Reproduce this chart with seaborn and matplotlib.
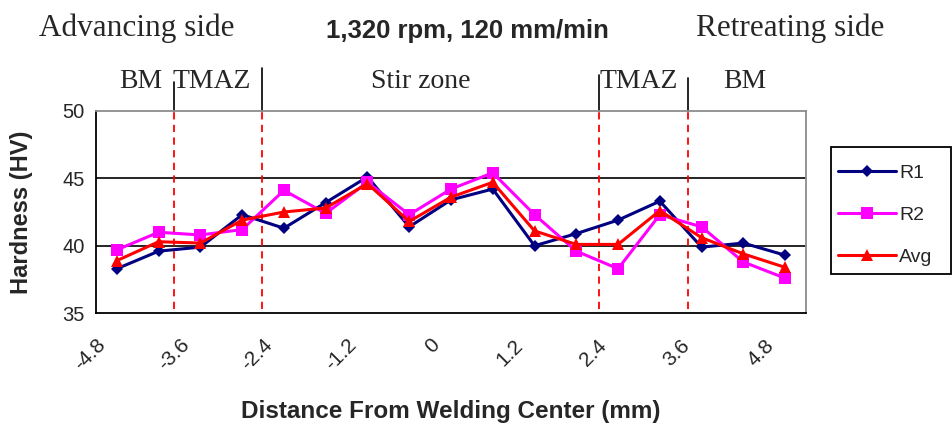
import numpy as np
import pandas as pd
import matplotlib
matplotlib.use("Agg")
import matplotlib.pyplot as plt
import matplotlib.transforms as mtransforms
from matplotlib.patches import Rectangle
import seaborn as sns

# Hardness traverse across the weld (mm from welding center)
distance = [-4.8, -4.2, -3.6, -3.0, -2.4, -1.8, -1.2, -0.6, 0.0,
            0.6, 1.2, 1.8, 2.4, 3.0, 3.6, 4.2, 4.8]
r1 = [38.3, 39.6, 39.9, 42.3, 41.3, 43.2, 45.1, 41.4, 43.4,
      44.2, 40.0, 40.9, 41.9, 43.3, 39.9, 40.2, 39.3]
r2 = [39.7, 41.0, 40.8, 41.2, 44.1, 42.4, 44.7, 42.3, 44.2,
      45.4, 42.3, 39.6, 38.3, 42.3, 41.4, 38.8, 37.6]
avg = [38.9, 40.3, 40.2, 41.9, 42.5, 42.8, 44.6, 41.8, 43.6,
       44.7, 41.1, 40.1, 40.1, 42.6, 40.6, 39.4, 38.4]

series_names = ["R1", "R2", "Avg"]
series_colors = ["#000080", "#FF00FF", "#FF0000"]
series_markers = ["D", "s", "^"]

x_tick_labels = ["-4.8", "-3.6", "-2.4", "-1.2", "0", "1.2", "2.4", "3.6", "4.8"]
y_ticks = [35, 40, 45, 50]

# zone boundaries (mm) and zone captions
zone_edges = [-3.98, -2.72, 2.13, 3.41]
zone_edge_tops = [81.5, 68, 75, 78]          # top of marker stubs, px from top
zone_names = ["BM", "TMAZ", "Stir zone", "TMAZ", "BM"]
zone_name_x = [141, 212, 421, 639, 745]      # px

df = pd.DataFrame({
    "distance": distance * 3,
    "hardness": r1 + r2 + avg,
    "series": sum([[n] * len(distance) for n in series_names], []),
})

sns.set_style("white")
plt.rcParams["font.family"] = ["Liberation Sans", "DejaVu Sans"]

W, H = 953, 426
fig = plt.figure(figsize=(W / 100, H / 100), dpi=100)
ax_l, ax_r, ax_t, ax_b = 96, 806, 110.7, 313.3
ax = fig.add_axes([ax_l / W, 1 - ax_b / H, (ax_r - ax_l) / W, (ax_b - ax_t) / H])

step = 0.6
x0, x1 = distance[0] - step / 2, distance[-1] + step / 2

# horizontal grid
for yv in [40, 45]:
    ax.axhline(yv, color="black", lw=1.2, zorder=1)

# zone boundary markers inside the plot
for xe in zone_edges:
    ax.plot([xe, xe], [35.35, 50], color="red", lw=1.3, ls=(0, (4, 3)), zorder=2)

sns.lineplot(
    data=df, x="distance", y="hardness", hue="series", style="series",
    hue_order=series_names, style_order=series_names,
    palette=dict(zip(series_names, series_colors)),
    markers=dict(zip(series_names, series_markers)),
    dashes=False, markersize=8, linewidth=2.2, markeredgewidth=0,
    ax=ax, zorder=3, legend=True,
)
# slightly smaller diamond
for line in ax.get_lines():
    if line.get_marker() == "D":
        line.set_markersize(6.5)

ax.set_xlim(x0, x1)
ax.set_ylim(35, 50)
ax.set_yticks(y_ticks)
ax.set_yticklabels([str(v) for v in y_ticks], fontsize=14.5)

# tick marks between categories, labels on every other category
bounds = [d - step / 2 for d in distance] + [distance[-1] + step / 2]
ax.set_xticks(bounds)
ax.set_xticklabels([])
label_pos = distance[::2]
ax.set_xticks(label_pos, minor=True)
ax.set_xticklabels(x_tick_labels, minor=True, rotation=45, fontsize=15,
                   ha="right", va="top", rotation_mode="anchor")
ax.tick_params(axis="x", which="minor", length=0, pad=16)
ax.tick_params(axis="x", which="major", direction="out", length=5, width=1.2, color="black")
ax.tick_params(axis="y", direction="out", length=5, width=1.2, color="black", pad=3)
shift = mtransforms.ScaledTranslation(-21 / 100, 0, fig.dpi_scale_trans)
for lab in ax.get_xticklabels(minor=True):
    lab.set_transform(lab.get_transform() + shift)

for side in ["left", "bottom"]:
    ax.spines[side].set_color("black")
    ax.spines[side].set_linewidth(1.3)
for side in ["top", "right"]:
    ax.spines[side].set_color("#8c8c8c")
    ax.spines[side].set_linewidth(1.3)

ax.set_xlabel("Distance From Welding Center (mm)", fontsize=17.5, fontweight="bold")
ax.set_ylabel("Hardness (HV)", fontsize=17, fontweight="bold")
ax.xaxis.set_label_coords(0.5, -(400 - ax_b) / (ax_b - ax_t))
ax.yaxis.set_label_coords(-(96 - 33) / (ax_r - ax_l), 0.5)

# black stubs above the plot marking the zone boundaries
for xe, top in zip(zone_edges, zone_edge_tops):
    tr = mtransforms.blended_transform_factory(ax.transData, ax.transAxes)
    ax.plot([xe, xe], [1.0, (ax_b - top) / (ax_b - ax_t)], color="black",
            lw=1.2, transform=tr, clip_on=False)

serif = ["Liberation Serif", "DejaVu Serif"]
for name, xp in zip(zone_names, zone_name_x):
    fig.text(xp / W, 1 - 82 / H, name, ha="center", va="center",
             fontsize=20, family=serif)

fig.text(137 / W, 1 - 28 / H, "Advancing side", ha="center", va="center",
         fontsize=22.5, family=serif)
fig.text(790 / W, 1 - 28 / H, "Retreating side", ha="center", va="center",
         fontsize=22.5, family=serif)
fig.text(467 / W, 1 - 31 / H, "1,320 rpm, 120 mm/min", ha="center", va="center",
         fontsize=18.5, fontweight="bold")

# legend: frame drawn as a figure rectangle, entries placed inside it
handles, labels = ax.get_legend_handles_labels()
ax.legend_.remove()
fig.patches.append(Rectangle((831 / W, 1 - 274 / H), 120 / W, 127 / H,
                             transform=fig.transFigure, fill=False,
                             edgecolor="black", lw=1.3))
leg = fig.legend(handles, labels, loc="upper left",
                 bbox_to_anchor=(838 / W, 1 - 164 / H), fontsize=14,
                 frameon=False, handlelength=3.0, handletextpad=0.15,
                 labelspacing=1.26, borderpad=0, borderaxespad=0)

fig.savefig("out.png", dpi=100, facecolor="white")
